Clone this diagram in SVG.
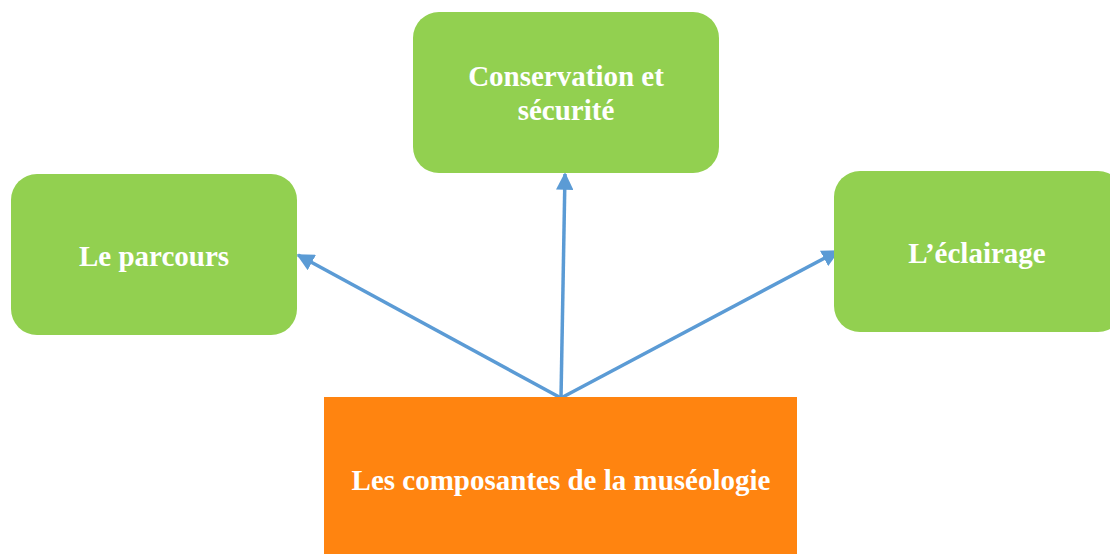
<svg xmlns="http://www.w3.org/2000/svg" width="1110" height="554" viewBox="0 0 1110 554">
<defs>
<style>
.g{fill:#92D050;}
.o{fill:#FF8410;}
.t{font-family:"Liberation Serif","Times New Roman",serif;font-weight:bold;font-size:29px;fill:#FFFFFF;text-anchor:middle;}
.c{stroke:#5B9BD5;stroke-width:3.5;fill:none;marker-end:url(#ah);}
</style>
<marker id="ah" viewBox="0 0 10 10" refX="9" refY="5" markerWidth="5" markerHeight="5" orient="auto" markerUnits="strokeWidth">
<path d="M0,0 L10,5 L0,10 z" fill="#5B9BD5"/>
</marker>
</defs>
<rect width="1110" height="554" fill="#FFFFFF"/>
<g id="connectors">
<line class="c" x1="561" y1="398" x2="565" y2="174"/>
<line class="c" x1="561" y1="398" x2="298" y2="255"/>
<line class="c" x1="561" y1="398" x2="838" y2="251"/>
</g>
<g id="node-conservation">
<rect class="g" x="413" y="12" width="306" height="161" rx="26"/>
<text class="t" x="566" y="86">Conservation et</text>
<text class="t" x="566" y="120">sécurité</text>
</g>
<g id="node-parcours">
<rect class="g" x="11" y="174" width="286" height="161" rx="26"/>
<text class="t" x="154" y="266">Le parcours</text>
</g>
<g id="node-eclairage">
<rect class="g" x="834" y="171" width="290" height="161" rx="26"/>
<text class="t" x="977" y="263">L’éclairage</text>
</g>
<g id="node-composantes">
<rect class="o" x="324" y="397" width="473" height="170"/>
<text class="t" x="561" y="490">Les composantes de la muséologie</text>
</g>
</svg>
